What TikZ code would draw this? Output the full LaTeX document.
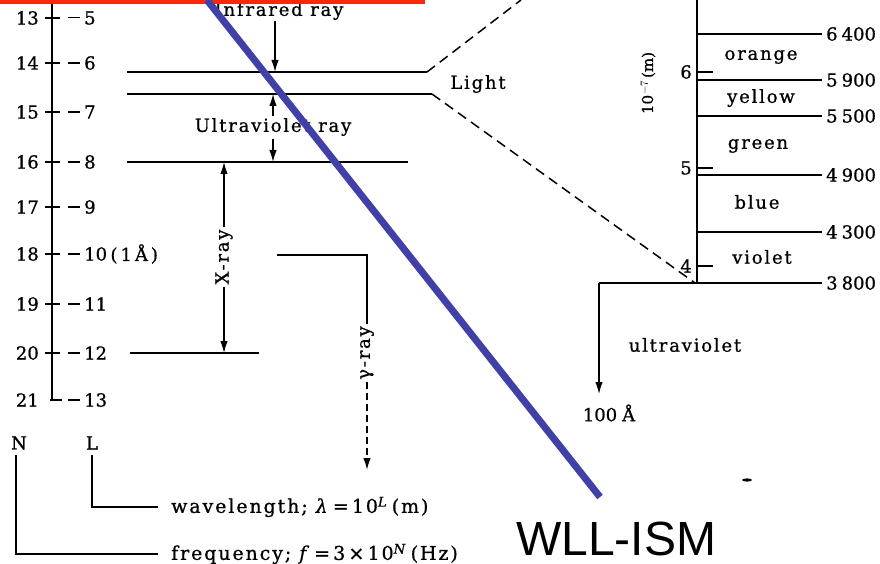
\documentclass[tikz,border=0pt]{standalone}
\usepackage{fontspec}
\setmainfont{DejaVu Serif}[FakeBold=0.8]
\newfontfamily\spaced[LetterSpace=10,FakeBold=0.8]{DejaVu Serif}
\newfontfamily\sansf{Liberation Sans}
\usetikzlibrary{arrows.meta}
\definecolor{topred}{RGB}{250,40,10}
\definecolor{slash}{RGB}{64,64,168}
\newcommand\tdash{\rule[6pt]{12pt}{1.4pt}\hspace{4pt}}
\begin{document}
\begin{tikzpicture}[x=1pt,y=-1pt,
  num/.style={font=\fontsize{18}{20}\selectfont, inner sep=0pt},
  word/.style={font=\spaced\fontsize{18}{20}\selectfont, inner sep=0pt},
  legend/.style={font=\spaced\fontsize{19}{21}\selectfont, inner sep=0pt},
  axisline/.style={line width=2.8pt},
  bar/.style={line width=1.6pt},
  thinbar/.style={line width=1.3pt},
  tip/.style={-{Latex[length=12pt,width=7.5pt]}},
  dashline/.style={line width=1.5pt, dash pattern=on 10pt off 6pt},
  gdash/.style={line width=1.5pt, dash pattern=on 7pt off 4pt}]
\useasboundingbox (0,0) rectangle (880,564);
\fill[white] (0,0) rectangle (880,564);

% ---------- left axis ----------
\coordinate (LT) at (52,0);
\coordinate (LB) at (52,400);
\draw[axisline] (LT) -- (LB);
\foreach \n/\l/\y in {13/5/18,14/6/63,15/7/112,16/8/162,17/9/207,18/10/254,19/11/304,20/12/353}{
  \coordinate (tl\n) at (45,\y);
  \coordinate (tr\n) at (60,\y);
  \draw[bar] (tl\n) -- (tr\n);
  \node[num, anchor=east] (f\n) at (39,\y) {\n};
  \node[num, anchor=west] (w\l) at (68,\y) {\tdash\l};
}
\coordinate (tl21) at (50,400);
\coordinate (tr21) at (62,400);
\draw[bar] (tl21) -- (tr21);
\node[num, anchor=east] (f21) at (39,400) {21};
\node[num, anchor=west] (w13) at (68,400) {\tdash13};
\node[num, anchor=west] (ang) at (w10.east) {\hspace{3pt}(\hspace{3pt}1\hspace{3pt}Å\hspace{3pt})};

% ---------- horizontal band lines ----------
\coordinate (A1) at (127,72);  \coordinate (A2) at (427,72);  \coordinate (A3) at (521,0);
\coordinate (B1) at (127,94);  \coordinate (B2) at (432,94);
\coordinate (C1) at (127,162); \coordinate (C2) at (408,162);
\coordinate (D1) at (130,353); \coordinate (D2) at (259,353);
\draw[bar] (A1) -- (A2);
\draw[bar] (B1) -- (B2);
\draw[bar] (C1) -- (C2);
\draw[bar] (D1) -- (D2);

% infrared
\node[word] (ir) at (279,11) {Infrared ray};
\coordinate (irS) at (275,21);
\coordinate (irE) at (275,72);
\draw[thinbar, tip] (irS) -- (irE);

% ultraviolet ray
\node[word] (uv) at (273,127) {Ultraviolet ray};
\coordinate (uvU1) at (273,116); \coordinate (uvU2) at (273,94);
\coordinate (uvD1) at (273,139); \coordinate (uvD2) at (273,162);
\draw[thinbar, tip] (uvU1) -- (uvU2);
\draw[thinbar, tip] (uvD1) -- (uvD2);

% X-ray
\node[word, rotate=90, inner sep=2pt] (xr) at (224,257) {X-ray};
\coordinate (xrT) at (224,162);
\coordinate (xrB) at (224,353);
\draw[thinbar, tip] (xr.east) -- (xrT);
\draw[thinbar, tip] (xr.west) -- (xrB);

% gamma ray
\coordinate (gL) at (277,255);
\coordinate (gC) at (367,255);
\coordinate (gB) at (367,470);
\node[word, rotate=90, inner sep=2pt] (gr) at (367,353) {γ-ray};
\draw[thinbar] (gL) -- (gC) -- (gr.east);
\draw[gdash, tip] (gr.west) -- (gB);

% light
\node[word] (light) at (478,84) {Light};
\coordinate (R0) at (695,283);
\draw[dashline] (A2) -- (A3);
\draw[dashline] (B2) -- (R0);

% ---------- right axis ----------
\coordinate (RT) at (697,0);
\coordinate (RB) at (697,283);
\draw[axisline] (RT) -- (RB);
\foreach \n/\y in {6/72,5/168,4/266}{
  \coordinate (rt\n) at (697,\y);
  \coordinate (re\n) at (713,\y);
  \draw[bar] (rt\n) -- (re\n);
  \node[num, anchor=east] (rl\n) at (692,\y) {\n};
}
\foreach \k/\v/\y in {a/6\hspace{4pt}400/34, b/5\hspace{4pt}900/80, c/5\hspace{4pt}500/116, d/4\hspace{4pt}900/175, e/4\hspace{4pt}300/232}{
  \coordinate (cs\k) at (697,\y);
  \coordinate (ce\k) at (822,\y);
  \draw[bar] (cs\k) -- (ce\k);
  \node[num, anchor=west] (cv\k) at (826,\y) {\v};
}
\coordinate (uvL) at (599,283);
\coordinate (uvR) at (822,283);
\coordinate (uvA) at (599,394);
\draw[bar] (uvR) -- (uvL);
\draw[thinbar, tip] (uvL) -- (uvA);
\node[num, anchor=west] (cvf) at (826,283) {3\hspace{4pt}800};

\node[word] (orange) at (761,57) {orange};
\node[word] (yellow) at (761,98) {yellow};
\node[word] (green) at (758,146) {green};
\node[word] (blue) at (757,202) {blue};
\node[word] (violet) at (762,257) {violet};
\node[num, rotate=90, font=\fontsize{15}{17}\selectfont] (unit) at (648,83) {10$^{-7}$\,(m)};
\node[word] (uvt) at (685,345) {ultraviolet};
\node[num] (hA) at (609,413) {100\hspace{5pt}Å};

% ---------- legend ----------
\node[num] (N) at (19,443) {N};
\node[num] (L) at (92,443) {L};
\coordinate (Lt) at (92,455); \coordinate (Lc) at (92,507); \coordinate (Le) at (158,507);
\coordinate (Nt) at (16,455); \coordinate (Nc) at (16,554); \coordinate (Ne) at (158,554);
\draw[thinbar] (Lt) -- (Lc) -- (Le);
\draw[thinbar] (Nt) -- (Nc) -- (Ne);
\node[legend, anchor=west] (wl) at (171,507) {wavelength; \textit{λ}\,=\,10\textsuperscript{\textit{L}}\,(m)};
\node[legend, anchor=west] (fq) at (171,554) {frequency; \textit{f}\,=\,3\,×\,10\textsuperscript{\textit{N}}\,(Hz)};

% scan speck
\fill[black] (747,480) ellipse (5pt and 1.6pt);

% ---------- overlays ----------
\fill[topred] (0,0) rectangle (425,4);
\coordinate (s1) at (207,0);
\coordinate (s2) at (600,497);
\draw[slash, line width=7pt] (s1) -- (s2);
\node[font=\sansf\fontsize{48}{50}\selectfont, anchor=base west, inner sep=0pt] (wll) at (516,555) {WLL-ISM};
\end{tikzpicture}
\end{document}
